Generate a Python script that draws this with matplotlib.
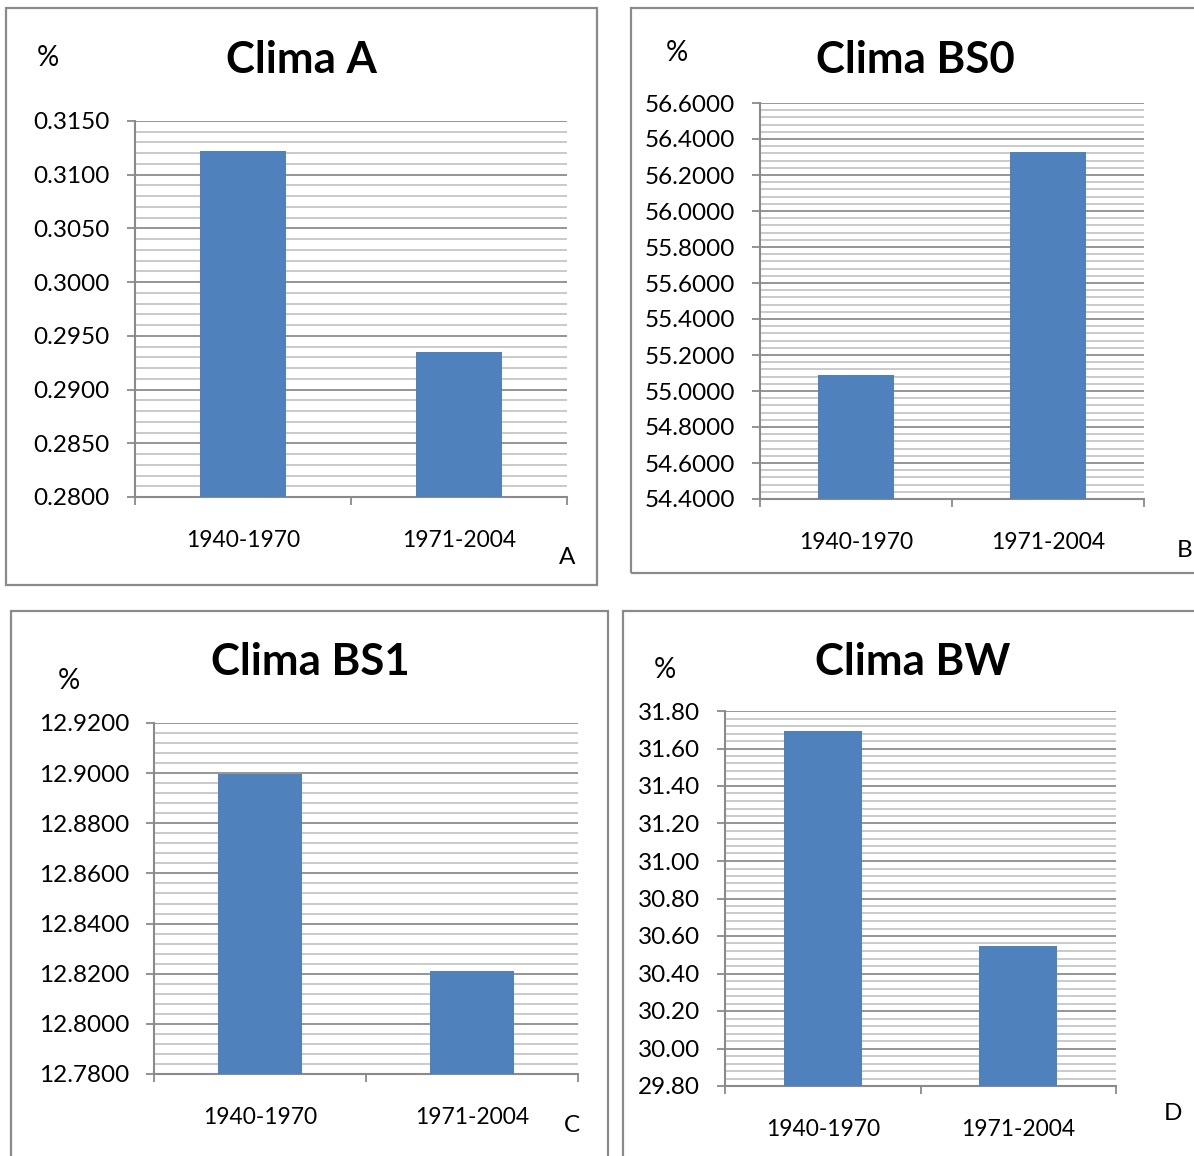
import matplotlib
matplotlib.use("Agg")
import matplotlib.pyplot as plt
from matplotlib.ticker import MultipleLocator, FormatStrFormatter
from matplotlib.patches import Rectangle

plt.rcParams["font.family"] = ["Lato", "DejaVu Sans"]

# Data
periods = ["1940-1970", "1971-2004"]
clima_a = [0.3122, 0.2935]
clima_bs0 = [55.09, 56.33]
clima_bs1 = [12.8997, 12.8211]
clima_bw = [31.696, 30.549]

titles = ["Clima A", "Clima BS0", "Clima BS1", "Clima BW"]
letters = ["A", "B", "C", "D"]
y_ranges = [(0.2800, 0.3150), (54.4, 56.6), (12.78, 12.92), (29.80, 31.80)]
y_major = [0.005, 0.2, 0.02, 0.2]
y_fmt = ["%.4f", "%.4f", "%.4f", "%.2f"]
series = [clima_a, clima_bs0, clima_bs1, clima_bw]

W, H = 1194, 1156
fig = plt.figure(figsize=(W / 100, H / 100), dpi=100)
fig.patch.set_facecolor("white")

# Layout in pixels: frame box, plot box, title/percent/letter positions
frames = [(6, 8, 597, 585), (631, 8, 1200, 573), (11, 611, 608, 1160), (623, 611, 1200, 1160)]
plots = [(135, 121, 567, 497), (760, 103, 1144, 499), (154, 723, 578, 1074), (725, 711, 1116, 1086)]
title_xy = [(301, 60), (915, 60), (310, 662), (913, 662)]
pct_xy = [(48, 58), (677, 53), (69, 681), (665, 670)]
letter_xy = [(567, 558), (1185, 550), (572, 1126), (1173, 1113)]

def fx(x):
    return x / W

def fy(y):
    return 1 - y / H

for i in range(4):
    x0, y0, x1, y1 = frames[i]
    fig.patches.append(Rectangle((fx(x0), fy(y1)), fx(x1 - x0), (y1 - y0) / H,
                                 transform=fig.transFigure, fill=False,
                                 edgecolor="#8a8a8a", linewidth=1.6, zorder=0))

    px0, py0, px1, py1 = plots[i]
    ax = fig.add_axes([fx(px0), fy(py1), fx(px1 - px0), (py1 - py0) / H])
    ax.set_xlim(0, 2)
    ax.bar([0.5, 1.5], series[i], width=0.4, color="#4F81BD", zorder=3)
    ax.set_ylim(*y_ranges[i])

    ax.yaxis.set_major_locator(MultipleLocator(y_major[i]))
    ax.yaxis.set_minor_locator(MultipleLocator(y_major[i] / 5))
    ax.yaxis.set_major_formatter(FormatStrFormatter(y_fmt[i]))
    ax.set_axisbelow(True)
    ax.grid(axis="y", which="major", color="#8c8c8c", linewidth=1.3)
    ax.grid(axis="y", which="minor", color="#bcbcbc", linewidth=1.1)

    ax.set_xticks([0, 1, 2])
    ax.set_xticklabels([])
    ax.set_xticks([0.5, 1.5], minor=True)
    ax.set_xticklabels(periods, minor=True)

    for s in ("top", "right"):
        ax.spines[s].set_visible(False)
    for s in ("left", "bottom"):
        ax.spines[s].set_color("#8a8a8a")
        ax.spines[s].set_linewidth(1.5)

    ax.tick_params(axis="y", which="major", direction="out", length=6,
                   width=1.3, color="#8a8a8a", labelsize=17.5, pad=12,
                   labelcolor="black")
    ax.tick_params(axis="y", which="minor", length=0)
    ax.tick_params(axis="x", which="major", direction="out", length=6,
                   width=1.3, color="#8a8a8a")
    ax.tick_params(axis="x", which="minor", length=0, labelsize=16.5, pad=24)

    tx, ty = title_xy[i]
    fig.text(fx(tx), fy(ty), titles[i], fontsize=31.5, fontweight="bold",
             ha="center", va="center")
    cx, cy = pct_xy[i]
    fig.text(fx(cx), fy(cy), "%", fontsize=20, ha="center", va="center")
    lx, ly = letter_xy[i]
    fig.text(fx(lx), fy(ly), letters[i], fontsize=17.5, ha="center", va="center")

fig.savefig("out.png", dpi=100)
